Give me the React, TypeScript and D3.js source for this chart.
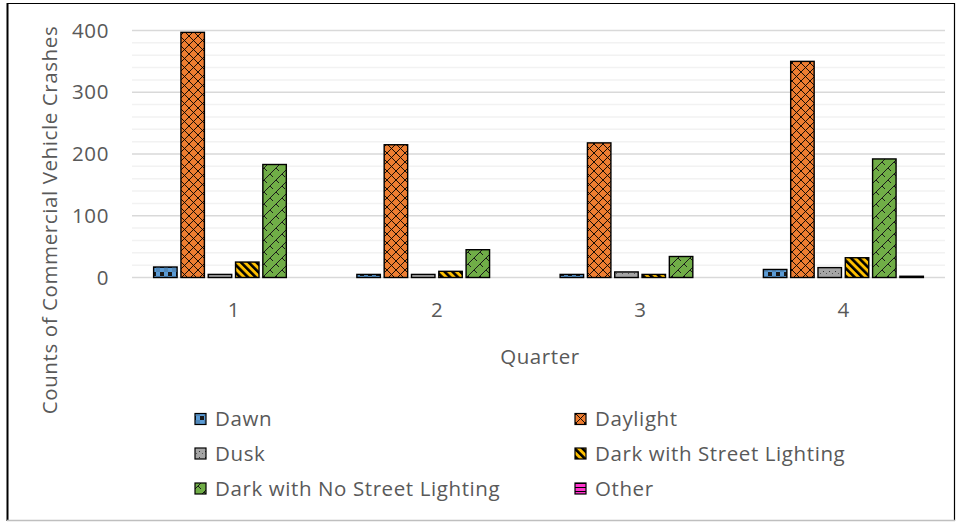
import React from "react";
import * as d3 from "d3";

const quarters = ["1", "2", "3", "4"];
const seriesNames = [
  "Dawn",
  "Daylight",
  "Dusk",
  "Dark with Street Lighting",
  "Dark with No Street Lighting",
  "Other",
];
const dawn = [17, 5, 5, 13];
const daylight = [397, 215, 218, 350];
const dusk = [5, 5, 9, 16];
const darkStreet = [25, 10, 5, 32];
const darkNoStreet = [183, 45, 34, 192];
const other = [0, 0, 0, 2];
const yTicks = [0, 100, 200, 300, 400];

const seriesValues = [dawn, daylight, dusk, darkStreet, darkNoStreet, other];
const fills = ["url(#pDawn)", "url(#pDay)", "url(#pDusk)", "url(#pStreet)", "url(#pNo)", "url(#pOther)"];

const W = 962;
const H = 522;
const FONT = "'Open Sans', sans-serif";
const TXT = "#595959";
const FS = 20.5;
const LS = 0.6;

export default function App() {
  const x = d3.scaleBand<string>().domain(quarters).range([132, 945]).padding(0);
  const y = d3.scaleLinear().domain([0, 400]).range([277.5, 30.5]);
  const inner = d3
    .scaleBand<string>()
    .domain(seriesNames)
    .range([-80, 80])
    .paddingInner(0.14);
  const minor = d3.range(0, 401, 20).filter((v) => v % 100 !== 0);

  const legendPos = [
    [193, 419],
    [573, 419],
    [193, 453.5],
    [573, 453.5],
    [193, 488.5],
    [573, 488.5],
  ];

  return (
    <div style={{ position: "fixed", left: 0, top: 0, width: W, height: H, background: "#fff" }}>
      <svg width={W} height={H} style={{ display: "block" }}>
        <defs>
          <pattern id="pDawn" patternUnits="userSpaceOnUse" width="8" height="8">
            <rect width="8" height="8" fill="#5b9bd5" />
            <rect x="0" y="0" width="4" height="4" fill="#1a1a1a" />
            <rect x="4" y="4" width="4" height="4" fill="#1a1a1a" opacity="0.15" />
          </pattern>
          <pattern id="pDay" patternUnits="userSpaceOnUse" width="9" height="9">
            <rect width="9" height="9" fill="#ed7d31" />
            <path d="M0,0 L9,9 M9,0 L0,9" stroke="#000" strokeWidth="0.9" />
          </pattern>
          <pattern id="pDusk" patternUnits="userSpaceOnUse" width="6" height="6">
            <rect width="6" height="6" fill="#a5a5a5" />
            <rect x="1" y="1" width="1" height="1" fill="#333" />
            <rect x="4" y="3" width="1" height="1" fill="#555" />
          </pattern>
          <pattern
            id="pStreet"
            patternUnits="userSpaceOnUse"
            width="5.5"
            height="6"
            patternTransform="rotate(-45)"
          >
            <rect width="5.5" height="6" fill="#ffc000" />
            <rect x="0" y="0" width="2.6" height="6" fill="#000" />
          </pattern>
          <pattern id="pNo" patternUnits="userSpaceOnUse" width="12" height="12">
            <rect width="12" height="12" fill="#70ad47" />
            <path d="M0,12 L12,0 M-3,3 L3,-3 M9,15 L15,9 M6,6 L9,9 M0,0 L3,3" stroke="#1a1a1a" strokeWidth="1" />
          </pattern>
          <pattern id="pOther" patternUnits="userSpaceOnUse" width="4" height="4">
            <rect width="4" height="4" fill="#ff33cc" />
            <rect y="3" width="4" height="1" fill="#000" />
          </pattern>
        </defs>

        {/* frame */}
        <line x1={7.5} y1={3} x2={7.5} y2={521} stroke="#000" strokeWidth={2} />
        <line x1={7} y1={3.5} x2={955} y2={3.5} stroke="#000" strokeWidth={1.2} />
        <line x1={954.5} y1={3} x2={954.5} y2={521} stroke="#000" strokeWidth={1.2} />
        <line x1={7} y1={520.5} x2={955} y2={520.5} stroke="#bfbfbf" strokeWidth={1.5} />

        {/* gridlines */}
        {minor.map((v) => (
          <line key={"m" + v} x1={132} x2={945} y1={y(v)} y2={y(v)} stroke="#f2f2f2" strokeWidth={1.5} />
        ))}
        {yTicks.map((v) => (
          <line key={"g" + v} x1={132} x2={945} y1={y(v)} y2={y(v)} stroke="#d9d9d9" strokeWidth={1.5} />
        ))}

        {/* y tick labels */}
        {yTicks.map((v) => (
          <text
            key={"t" + v}
            x={109}
            y={y(v)}
            dy="0.35em"
            textAnchor="end"
            fontFamily={FONT}
            fontSize={FS}
            letterSpacing={LS}
            fill={TXT}
          >
            {v}
          </text>
        ))}

        {/* bars */}
        {quarters.map((q, qi) => {
          const cx = (x(q) as number) + x.bandwidth() / 2;
          return (
            <g key={q}>
              {seriesNames.map((s, si) => {
                const v = seriesValues[si][qi];
                const bx = cx + (inner(s) as number);
                return (
                  <rect
                    key={s}
                    x={bx}
                    y={y(v)}
                    width={inner.bandwidth()}
                    height={Math.max(0, y(0) - y(v))}
                    fill={fills[si]}
                    stroke="#000"
                    strokeWidth={1.4}
                  />
                );
              })}
              <text
                x={cx}
                y={317}
                textAnchor="middle"
                fontFamily={FONT}
                fontSize={FS}
                fill={TXT}
              >
                {q}
              </text>
            </g>
          );
        })}

        {/* axis titles */}
        <text x={540} y={364} textAnchor="middle" fontFamily={FONT} fontSize={FS} letterSpacing={LS} fill={TXT}>
          Quarter
        </text>
        <text
          transform="translate(57,220) rotate(-90)"
          textAnchor="middle"
          fontFamily={FONT}
          fontSize={FS}
          letterSpacing={LS}
          fill={TXT}
        >
          Counts of Commercial Vehicle Crashes
        </text>

        {/* legend */}
        {seriesNames.map((s, i) => {
          const [lx, ly] = legendPos[i];
          return (
            <g key={"l" + s}>
              <rect x={lx + 2} y={ly - 5.5} width={11} height={11} fill={fills[i]} stroke="#000" strokeWidth={1.2} />
              <text x={lx + 22} y={ly} dy="0.35em" fontFamily={FONT} fontSize={FS} letterSpacing={LS} fill={TXT}>
                {s}
              </text>
            </g>
          );
        })}
      </svg>
    </div>
  );
}
